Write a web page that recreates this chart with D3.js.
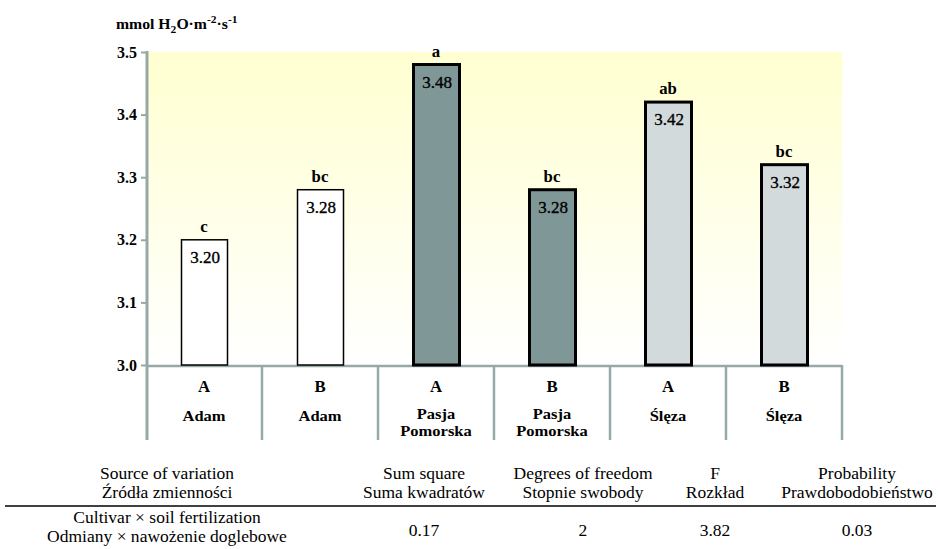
<!DOCTYPE html>
<html><head><meta charset="utf-8">
<script src="https://cdn.jsdelivr.net/npm/d3@7"></script>
<style>body{margin:0;background:#fff;}</style></head>
<body><svg id="c" width="940" height="549"></svg>
<script>
// ---- data ----
const fertilization = ["A","B","A","B","A","B"];
const cultivars = [["Adam"],["Adam"],["Pasja","Pomorska"],["Pasja","Pomorska"],["Śl\u0119za"],["Śl\u0119za"]];
const values = [3.20, 3.28, 3.48, 3.28, 3.42, 3.32];
const valueLabels = ["3.20","3.28","3.48","3.28","3.42","3.32"];
const groupLetters = ["c","bc","a","bc","ab","bc"];
const yTicks = [3.0, 3.1, 3.2, 3.3, 3.4, 3.5];
const tableHeaderEn = ["Source of variation","Sum square","Degrees of freedom","F","Probability"];
const tableHeaderPl = ["Źródła zmienności","Suma kwadratów","Stopnie swobody","Rozkład","Prawdobodobieństwo"];
const tableRowSource = ["Cultivar × soil fertilization","Odmiany × nawożenie doglebowe"];
const tableRowValues = ["0.17","2","3.82","0.03"];

const fills = ["#ffffff","#ffffff","#7f9797","#7f9797","#d3dadb","#d3dadb"];
const strokeW = [1.5,1.5,3,3,3,3];

const FONT = "'Liberation Serif'";
const svg = d3.select("#c");
const L = 146, R = 842, T = 52, B = 365;
const x = d3.scaleBand().domain(d3.range(6)).range([L, R]).padding(0);
const y = d3.scaleLinear().domain([3.0, 3.5]).range([B, T]);
const axisCol = "#97a8a8";

function txt(t, xx, yy, size, bold, anchor, sx){
  return svg.append("text")
    .attr("transform",`translate(${xx},${yy}) scale(${sx||1},1)`)
    .attr("text-anchor",anchor||"middle")
    .style("font-family",FONT).attr("font-size",size)
    .attr("font-weight",bold?"bold":"normal").attr("fill","#000").text(t);
}

// background gradient
const defs = svg.append("defs");
const g = defs.append("linearGradient").attr("id","bg").attr("x1",0).attr("y1",0).attr("x2",0).attr("y2",1);
g.append("stop").attr("offset","0%").attr("stop-color","#ffffd0");
g.append("stop").attr("offset","100%").attr("stop-color","#ffffff");
svg.append("rect").attr("x", L+2).attr("y", y(3.5)).attr("width", R-L-2).attr("height", B-y(3.5)).attr("fill","url(#bg)");

// title
const title = svg.append("text").attr("transform","translate(116,29) scale(1.05,1)")
  .attr("font-size",15).attr("font-weight","bold").style("font-family",FONT);
title.append("tspan").text("mmol H");
title.append("tspan").attr("dy",4).attr("font-size",11).text("2");
title.append("tspan").attr("dy",-4).text("O·m");
title.append("tspan").attr("dy",-6).attr("font-size",11).text("-2");
title.append("tspan").attr("dy",6).text("·s");
title.append("tspan").attr("dy",-6).attr("font-size",11).text("-1");

// y axis
const yAxis = svg.append("g").attr("transform",`translate(${L+1},0)`)
  .call(d3.axisLeft(y).tickValues(yTicks).tickFormat(d3.format(".1f")).tickSize(6).tickPadding(4));
yAxis.select(".domain").remove();
yAxis.selectAll(".tick line").attr("stroke",axisCol).attr("stroke-width",2);
yAxis.selectAll(".tick text").style("font-family",FONT).attr("font-size",16).attr("font-weight","bold").attr("fill","#000");
svg.append("line").attr("x1",L+1).attr("x2",L+1).attr("y1",T-1).attr("y2",440).attr("stroke",axisCol).attr("stroke-width",3);

// bottom axis and dividers
svg.append("line").attr("x1",L).attr("x2",R).attr("y1",B+1).attr("y2",B+1).attr("stroke",axisCol).attr("stroke-width",2.5);
const bounds = d3.range(1,7).map(i => x(i-1) + x.step());
svg.selectAll(".div").data(bounds).enter().append("line")
  .attr("x1",d=>d).attr("x2",d=>d).attr("y1",B).attr("y2",440).attr("stroke",axisCol).attr("stroke-width",2.5);

// bars
const bw = 46;
const cx = i => x(i) + x.bandwidth()/2;
svg.selectAll(".bar").data(values).enter().append("rect")
  .attr("x",(d,i)=>cx(i)-bw/2 + 0.5)
  .attr("y",d=>y(d))
  .attr("width",bw)
  .attr("height",d=>B - y(d))
  .attr("fill",(d,i)=>fills[i]).attr("stroke","#000").attr("stroke-width",(d,i)=>strokeW[i]);

values.forEach((v,i)=>{
  txt(valueLabels[i], cx(i)+1, y(v)+23, 17, false, "middle", 1.0).attr("stroke","#000").attr("stroke-width",0.35);
  txt(groupLetters[i], cx(i), y(v)-8, 16, true, "middle", 1.05);
});

// category labels
fertilization.forEach((t,i)=>txt(t, cx(i), 392, 16, true, "middle", 1.05));
cultivars.forEach((lines,i)=>{
  const y0 = lines.length > 1 ? 419 : 421;
  lines.forEach((t,j)=>txt(t, cx(i), y0+j*17, 15, true, "middle", 1.1));
});

// table
const colX = [167, 424, 583, 715, 857];
const TS = 17, TSX = 1.03;
tableHeaderEn.forEach((t,i)=>txt(t,colX[i],479,TS,false,"middle",TSX));
tableHeaderPl.forEach((t,i)=>txt(t,colX[i],498,TS,false,"middle",TSX));
svg.append("line").attr("x1",5).attr("x2",936).attr("y1",506).attr("y2",506).attr("stroke","#000").attr("stroke-width",1.5);
tableRowSource.forEach((t,j)=>txt(t,colX[0],523+j*19,TS,false,"middle",TSX));
tableRowValues.forEach((t,i)=>txt(t,colX[i+1],536,TS,false,"middle",TSX));
</script></body></html>
